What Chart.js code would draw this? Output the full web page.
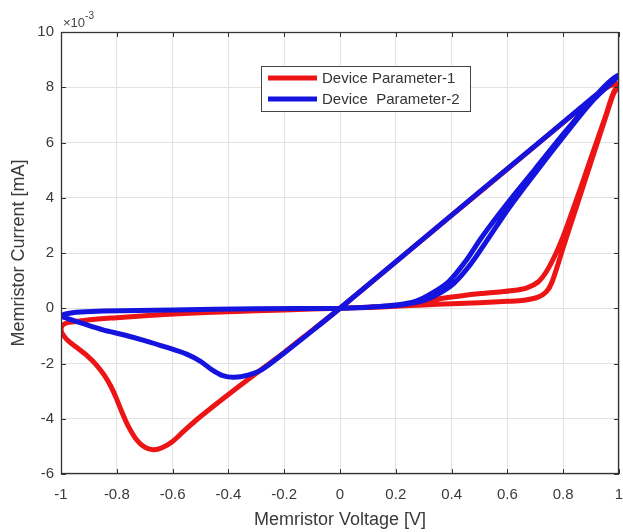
<!DOCTYPE html>
<html>
<head>
<meta charset="utf-8">
<script src="https://cdn.jsdelivr.net/npm/chart.js@4.4.1/dist/chart.umd.min.js"></script>
<style>
    html, body { margin: 0; padding: 0; background: #fff; }
    #wrap { width: 623px; height: 532px; }
</style>
</head>
<body>
<div id="wrap"><canvas id="myChart" width="623" height="532"></canvas></div>
<script>
"use strict";

// tick labels
const xTickValues = [-1, -0.8, -0.6, -0.4, -0.2, 0, 0.2, 0.4, 0.6, 0.8, 1];
const yTickValues = [-6, -4, -2, 0, 2, 4, 6, 8, 10];

const seriesNames = ['Device Parameter-1', 'Device  Parameter-2'];

// Device Parameter-1 (current in units of 1e-3 mA)
const redVoltage = [
    0, 0.1, 0.2, 0.3, 0.4, 0.5, 0.6, 0.66, 0.71, 0.74, 0.76, 0.8, 0.85, 0.9, 0.95, 0.98, 1.0,
    0.98, 0.95, 0.9, 0.8, 0.6, 0.4, 0.2, 0,
    -0.1, -0.2, -0.3, -0.4, -0.5, -0.56, -0.6, -0.64, -0.67, -0.7, -0.73, -0.76, -0.78, -0.8,
    -0.82, -0.845, -0.875, -0.905, -0.94, -0.97, -0.99, -1.0,
    -0.995, -0.975, -0.9, -0.8, -0.7, -0.56, -0.4, -0.2, 0,
    0.1, 0.2, 0.3, 0.36, 0.45, 0.55, 0.62, 0.67, 0.71, 0.74, 0.77, 0.8, 0.85, 0.9, 0.95, 0.98, 1.0
];
const redCurrent = [
    0, 0.03, 0.07, 0.12, 0.16, 0.2, 0.25, 0.29, 0.4, 0.6, 0.95, 2.2, 3.75, 5.3, 6.85, 7.75, 8.12,
    8.1, 7.95, 7.55, 6.72, 5.04, 3.36, 1.68, 0,
    -0.8, -1.6, -2.35, -3.12, -3.92, -4.45, -4.82, -5.06, -5.12, -5.03, -4.75, -4.25, -3.8, -3.3,
    -2.85, -2.42, -2.03, -1.73, -1.45, -1.22, -1.0, -0.8,
    -0.62, -0.52, -0.42, -0.34, -0.27, -0.19, -0.13, -0.06, 0,
    0.04, 0.09, 0.2, 0.35, 0.47, 0.57, 0.64, 0.74, 0.95, 1.33, 1.9, 2.6, 4.0, 5.45, 6.9, 7.8, 8.12
];

// Device Parameter-2
const blueVoltage = [
    0, 0.1, 0.2, 0.27, 0.33, 0.39, 0.45, 0.51, 0.6, 0.7, 0.8, 0.9, 0.96, 1.0,
    0.5, 0,
    -0.1, -0.2, -0.28, -0.33, -0.38, -0.42, -0.46, -0.5, -0.55, -0.62, -0.7, -0.78, -0.85, -0.92, -0.98, -1.0,
    -0.98, -0.93, -0.85, -0.6, -0.3, 0,
    0.1, 0.2, 0.3, 0.35, 0.41, 0.47, 0.53, 0.6, 0.7, 0.8, 0.9, 1.0
];
const blueCurrent = [
    0, 0.04, 0.12, 0.25, 0.55, 0.97, 1.7, 2.6, 3.8, 5.05, 6.3, 7.5, 8.15, 8.42,
    4.21, 0,
    -0.82, -1.62, -2.22, -2.42, -2.5, -2.44, -2.22, -1.92, -1.66, -1.42, -1.17, -0.95, -0.78, -0.56, -0.36, -0.28,
    -0.2, -0.14, -0.1, -0.06, -0.02, 0,
    0.04, 0.1, 0.28, 0.5, 0.92, 1.62, 2.5, 3.55, 4.9, 6.2, 7.45, 8.42
];

const redColor = 'rgb(236, 20, 20)';
const blueColor = 'rgb(20, 20, 222)';
const axisColor = '#333333';
const gridColor = '#e3e3e3';

function toPoints(xs, ys) {
    return xs.map(function (x, i) { return {x: x, y: ys[i]}; });
}

// box, inward ticks, legend and the exponent label, MATLAB style
const matlabBox = {
    id: 'matlabBox',
    afterDatasetsDraw(chart) {
        const ctx = chart.ctx;
        const a = chart.chartArea;
        const xs = chart.scales.x;
        const ys = chart.scales.y;
        ctx.save();
        ctx.strokeStyle = axisColor;
        ctx.lineWidth = 1;
        ctx.beginPath();
        xTickValues.forEach(function (v) {
            const px = Math.round(xs.getPixelForValue(v)) + 0.5;
            ctx.moveTo(px, a.bottom); ctx.lineTo(px, a.bottom - 5);
            ctx.moveTo(px, a.top); ctx.lineTo(px, a.top + 5);
        });
        yTickValues.forEach(function (v) {
            const py = Math.round(ys.getPixelForValue(v)) + 0.5;
            ctx.moveTo(a.left, py); ctx.lineTo(a.left + 5, py);
            ctx.moveTo(a.right, py); ctx.lineTo(a.right - 5, py);
        });
        ctx.stroke();
        ctx.lineWidth = 1.3;
        ctx.strokeRect(a.left + 0.5, a.top + 0.5, a.right - a.left - 1, a.bottom - a.top - 1);

        // legend
        const lx = 261, ly = 66, lw = 209, lh = 45;
        ctx.fillStyle = '#ffffff';
        ctx.fillRect(lx, ly, lw, lh);
        ctx.lineWidth = 1;
        ctx.strokeStyle = '#444';
        ctx.strokeRect(lx + 0.5, ly + 0.5, lw, lh);
        ctx.font = '15px "Liberation Sans", Arial, sans-serif';
        ctx.textBaseline = 'middle';
        chart.data.datasets.forEach(function (ds, i) {
            const rowY = ly + 12 + i * 21;
            ctx.strokeStyle = ds.borderColor;
            ctx.lineWidth = 5;
            ctx.beginPath();
            ctx.moveTo(lx + 7, rowY);
            ctx.lineTo(lx + 56, rowY);
            ctx.stroke();
            ctx.fillStyle = axisColor;
            ctx.fillText(ds.label, lx + 61, rowY + 1);
        });

        // x10^-3
        ctx.fillStyle = '#444';
        ctx.textBaseline = 'alphabetic';
        ctx.font = '13px "Liberation Sans", Arial, sans-serif';
        ctx.fillText('\u00d710', a.left + 2, a.top - 5);
        const w = ctx.measureText('\u00d710').width;
        ctx.font = '10px "Liberation Sans", Arial, sans-serif';
        ctx.fillText('-3', a.left + 2 + w, a.top - 13);
        ctx.restore();
    }
};

const ctx = document.getElementById('myChart');
const myChart = new Chart(ctx, {
    type: 'scatter',
    data: {
        datasets: [{
            label: seriesNames[0],
            data: toPoints(redVoltage, redCurrent),
            borderColor: redColor,
            backgroundColor: redColor,
            order: 2
        }, {
            label: seriesNames[1],
            data: toPoints(blueVoltage, blueCurrent),
            borderColor: blueColor,
            backgroundColor: blueColor,
            order: 1
        }]
    },
    options: {
        responsive: false,
        animation: false,
        showLine: true,
        layout: {
            padding: {left: 0, right: 4, top: 32, bottom: 0}
        },
        elements: {
            point: {radius: 0, hoverRadius: 0},
            line: {borderWidth: 5, tension: 0.3, borderJoinStyle: 'round', borderCapStyle: 'round', fill: false}
        },
        plugins: {
            legend: {display: false},
            tooltip: {enabled: false}
        },
        scales: {
            x: {
                type: 'linear',
                min: -1,
                max: 1,
                afterBuildTicks: function (scale) {
                    scale.ticks = xTickValues.map(function (v) { return {value: v}; });
                },
                afterFit: function (scale) {
                    scale.height = 58;
                    scale.paddingLeft = 0;
                    scale.paddingRight = 0;
                },
                grid: {color: gridColor, drawTicks: false},
                border: {display: false},
                ticks: {
                    padding: 12,
                    color: '#3a3a3a',
                    font: {family: '"Liberation Sans", Arial, sans-serif', size: 15},
                    maxRotation: 0,
                    autoSkip: false,
                    callback: function (v) { return String(Number(v.toFixed(1))); }
                },
                title: {
                    display: true,
                    text: 'Memristor Voltage [V]',
                    color: '#3a3a3a',
                    font: {family: '"Liberation Sans", Arial, sans-serif', size: 18},
                    padding: {top: 0, bottom: 1}
                }
            },
            y: {
                type: 'linear',
                min: -6,
                max: 10,
                afterBuildTicks: function (scale) {
                    scale.ticks = yTickValues.map(function (v) { return {value: v}; });
                },
                afterFit: function (scale) { scale.width = 61; },
                grid: {color: gridColor, drawTicks: false},
                border: {display: false},
                ticks: {
                    padding: 7,
                    color: '#3a3a3a',
                    font: {family: '"Liberation Sans", Arial, sans-serif', size: 15},
                    autoSkip: false,
                    callback: function (v) { return String(v); }
                },
                title: {
                    display: true,
                    text: 'Memristor Current [mA]',
                    color: '#3a3a3a',
                    font: {family: '"Liberation Sans", Arial, sans-serif', size: 18},
                    padding: {top: 8, bottom: 0}
                }
            }
        }
    },
    plugins: [matlabBox]
});
</script>
</body>
</html>
